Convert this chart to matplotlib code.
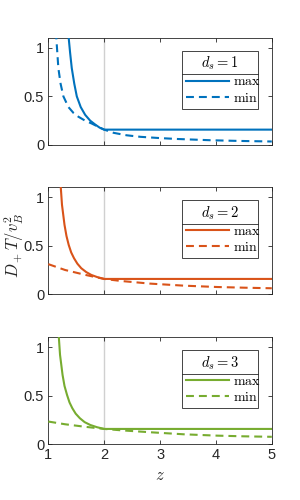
import matplotlib
matplotlib.use("Agg")
import matplotlib.pyplot as plt
from matplotlib.lines import Line2D

plt.rcParams['mathtext.fontset'] = 'cm'
plt.rcParams['font.family'] = ['Liberation Sans', 'DejaVu Sans']

# ---- data ----
z1_max = [1.33, 1.36, 1.39, 1.42, 1.465, 1.51, 1.58, 1.66, 1.75, 1.84, 1.92, 2.0, 5.0]
y1_max = [1.35, 1.13, 0.95, 0.79, 0.63, 0.50, 0.39, 0.31, 0.25, 0.21, 0.178, 0.158, 0.158]
z1_min = [1.12, 1.14, 1.18, 1.22, 1.27, 1.36, 1.45, 1.54, 1.66, 1.78, 1.90, 2.0,
          2.17, 2.4, 2.65, 3.0, 3.3, 3.9, 4.4, 4.8, 5.0]
y1_min = [1.30, 1.13, 0.79, 0.63, 0.50, 0.39, 0.33, 0.29, 0.25, 0.22, 0.185, 0.158,
          0.125, 0.10, 0.084, 0.071, 0.062, 0.049, 0.042, 0.038, 0.036]

z2_max = [1.20, 1.22, 1.245, 1.29, 1.325, 1.365, 1.41, 1.46, 1.52, 1.59, 1.68, 1.77, 1.88, 2.0, 5.0]
y2_max = [1.35, 1.127, 0.92, 0.714, 0.60, 0.508, 0.43, 0.371, 0.315, 0.268, 0.228, 0.199, 0.176, 0.158, 0.158]
z2_min = [1.0, 1.3, 1.66, 2.0, 2.3, 2.82, 3.42, 4.02, 4.5, 5.0]
y2_min = [0.31, 0.25, 0.20, 0.158, 0.137, 0.11, 0.089, 0.075, 0.068, 0.062]

z3_max = [1.165, 1.185, 1.21, 1.255, 1.29, 1.335, 1.38, 1.43, 1.49, 1.565, 1.65, 1.75, 1.87, 2.0, 5.0]
y3_max = [1.35, 1.13, 0.92, 0.714, 0.60, 0.508, 0.43, 0.371, 0.315, 0.268, 0.228, 0.199, 0.176, 0.158, 0.158]
z3_min = [1.0, 1.3, 1.66, 2.0, 2.3, 2.82, 3.42, 4.02, 4.5, 5.0]
y3_min = [0.234, 0.206, 0.18, 0.158, 0.144, 0.124, 0.103, 0.089, 0.082, 0.077]

ds_labels = ['$d_s = 1$', '$d_s = 2$', '$d_s = 3$']
series_labels = [r'$\mathrm{max}$', r'$\mathrm{min}$']
colors = ['#0072BD', '#D95319', '#77AC30']
x_ticks = [1, 2, 3, 4, 5]
y_ticks = [0, 0.5, 1]
y_tick_labels = ['0', '0.5', '1']

panels = [
    (z1_max, y1_max, z1_min, y1_min),
    (z2_max, y2_max, z2_min, y2_min),
    (z3_max, y3_max, z3_min, y3_min),
]

fig = plt.figure(figsize=(3, 5), dpi=100)
bottoms = [0.710, 0.4114, 0.1114]
axes = []
legs = []
tick_col = '#262626'
for i, (zm, ym, zn, yn) in enumerate(panels):
    ax = fig.add_axes([0.161, bottoms[i], 0.745, 0.214])
    axes.append(ax)
    ax.axvline(2, color='#d0d0d0', lw=1.0, zorder=1)
    l1, = ax.plot(zm, ym, color=colors[i], lw=1.5, zorder=3)
    l2, = ax.plot(zn, yn, color=colors[i], lw=1.5, dashes=(3.8, 2.4), zorder=3)
    ax.set_xlim(1, 5)
    ax.set_ylim(0, 1.1)
    ax.set_xticks(x_ticks)
    ax.set_yticks(y_ticks)
    ax.set_yticklabels(y_tick_labels)
    ax.tick_params(direction='in', length=3, width=0.6, top=True, right=True,
                   labelsize=10.5, colors=tick_col, pad=3)
    for s in ax.spines.values():
        s.set_color(tick_col)
        s.set_linewidth(0.6)
    if i < 2:
        ax.set_xticklabels([])
    leg = ax.legend([l1, l2], series_labels, title=ds_labels[i],
                    loc='upper left', bbox_to_anchor=(0.598, 0.374, 0.342, 0.507),
                    mode='expand', borderaxespad=0, fancybox=False, framealpha=1,
                    edgecolor='#262626', fontsize=10, title_fontsize=10.5,
                    handlelength=3.1, handletextpad=0.25, borderpad=0.3,
                    labelspacing=0.15)
    leg.get_frame().set_linewidth(0.6)
    legs.append(leg)

axes[2].set_xlabel('$z$', fontsize=12, color=tick_col, labelpad=4)
axes[1].set_ylabel('$D_+T/v_B^2$', fontsize=12, color=tick_col, va='center')
axes[1].yaxis.set_label_coords(-0.155, 0.46)

fig.canvas.draw()
r = fig.canvas.get_renderer()
for leg in legs:
    lb = leg.get_window_extent(r)
    tb = leg.get_title().get_window_extent(r)
    y = tb.y0 - 2
    x0, y0 = fig.transFigure.inverted().transform((lb.x0, y))
    x1, _ = fig.transFigure.inverted().transform((lb.x1, y))
    fig.add_artist(Line2D([x0, x1], [y0, y0], color='#262626', lw=0.6,
                          transform=fig.transFigure))

fig.savefig('out.png', dpi=100)
